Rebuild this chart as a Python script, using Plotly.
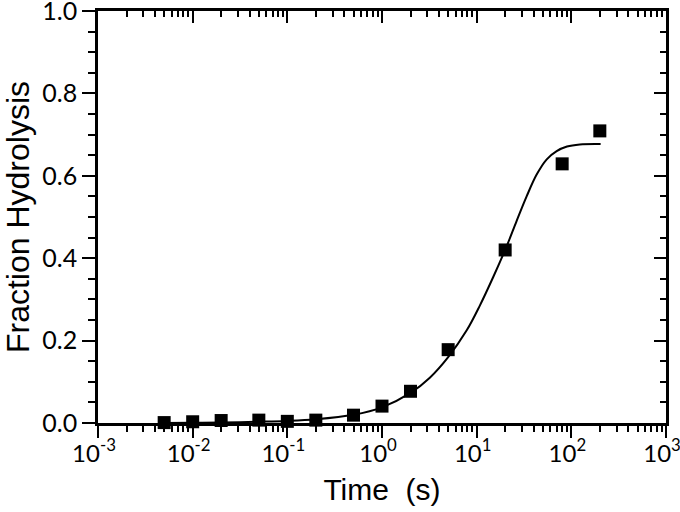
import plotly.graph_objects as go

time_s = [0.005, 0.01, 0.02, 0.05, 0.1, 0.2, 0.5, 1, 2, 5, 20, 80, 200]
fraction = [0.001, 0.003, 0.006, 0.007, 0.004, 0.007, 0.019, 0.041, 0.077, 0.178, 0.42, 0.629, 0.709]

# Fitted curve
curve_t = [0.005, 0.01, 0.02, 0.05, 0.1, 0.2, 0.5, 1, 2, 3.2, 5, 7.85, 10.8, 15, 20.4,
           26.4, 33.7, 43, 55, 70, 90, 123, 204]
curve_y = [0.0003, 0.0006, 0.0012, 0.003, 0.005, 0.009, 0.02, 0.038, 0.073, 0.11, 0.16,
           0.225, 0.285, 0.355, 0.425, 0.49, 0.55, 0.603, 0.64, 0.66, 0.671, 0.676, 0.677]

x_tickvals = [1e-3, 1e-2, 1e-1, 1, 10, 100, 1000]
x_ticktext = ["10<sup>-3</sup>", "10<sup>-2</sup>", "10<sup>-1</sup>", "10<sup>0</sup>",
              "10<sup>1</sup>", "10<sup>2</sup>", "10<sup>3</sup>"]
y_tickvals = [0.0, 0.2, 0.4, 0.6, 0.8, 1.0]
y_ticktext = ["0.0", "0.2", "0.4", "0.6", "0.8", "1.0"]

fig = go.Figure()
fig.add_trace(go.Scatter(x=curve_t, y=curve_y, mode="lines",
                         line=dict(color="black", width=2, shape="spline", smoothing=1.0),
                         cliponaxis=False, hoverinfo="skip", showlegend=False))
fig.add_trace(go.Scatter(x=time_s, y=fraction, mode="markers",
                         marker=dict(symbol="square", size=13, color="black"),
                         cliponaxis=False, showlegend=False))
# helper trace so that the mirrored (top/right) axes get drawn
fig.add_trace(go.Scatter(x=curve_t, y=curve_y, xaxis="x2", yaxis="y2", mode="lines",
                         line=dict(width=0), opacity=0, hoverinfo="skip", showlegend=False))

axis_line = dict(showline=True, linecolor="black", linewidth=2.5, showgrid=False,
                 zeroline=False, tickcolor="black", tickwidth=2, automargin=False)

fig.update_layout(
    width=680, height=512,
    margin=dict(l=98, r=14, t=11, b=89),
    plot_bgcolor="white", paper_bgcolor="white",
    xaxis=dict(type="log", range=[-3, 3], tickvals=x_tickvals, ticktext=x_ticktext,
               ticks="outside", ticklen=12, ticklabeloverflow="allow",
               ticklabelshift=-4, ticklabelstandoff=-5,
               minor=dict(ticks="outside", ticklen=6, dtick="D1", tickcolor="black", tickwidth=2),
               tickfont=dict(family="Lato, Open Sans, sans-serif", size=24, color="black"),
               title=dict(text="Time  (s)", font=dict(family="Liberation Sans, Arial", size=30, color="black"),
                          standoff=14),
               **axis_line),
    yaxis=dict(range=[0, 1.0], tickvals=y_tickvals, ticktext=y_ticktext,
               ticks="outside", ticklen=13, ticklabeloverflow="allow",
               minor=dict(ticks="outside", ticklen=7, dtick=0.05, tickcolor="black", tickwidth=2),
               tickfont=dict(family="Lato, Open Sans, sans-serif", size=25, color="black"),
               title=dict(text="Fraction Hydrolysis", font=dict(family="Liberation Sans, Arial", size=32, color="black"),
                          standoff=16),
               **axis_line),
    xaxis2=dict(type="log", range=[-3, 3], overlaying="x", side="top", anchor="y",
                tickvals=x_tickvals, showticklabels=False, ticks="inside", ticklen=12,
                minor=dict(ticks="inside", ticklen=6, dtick="D1", tickcolor="black", tickwidth=2),
                **axis_line),
    yaxis2=dict(range=[0, 1.0], overlaying="y", side="right", anchor="x",
                tickvals=y_tickvals, showticklabels=False, ticks="inside", ticklen=12,
                minor=dict(ticks="inside", ticklen=6, dtick=0.05, tickcolor="black", tickwidth=2),
                **axis_line),
)

fig.write_html("out.html", config={"displayModeBar": False},
               post_script="document.body.style.margin='0';document.body.style.overflow='hidden';")
